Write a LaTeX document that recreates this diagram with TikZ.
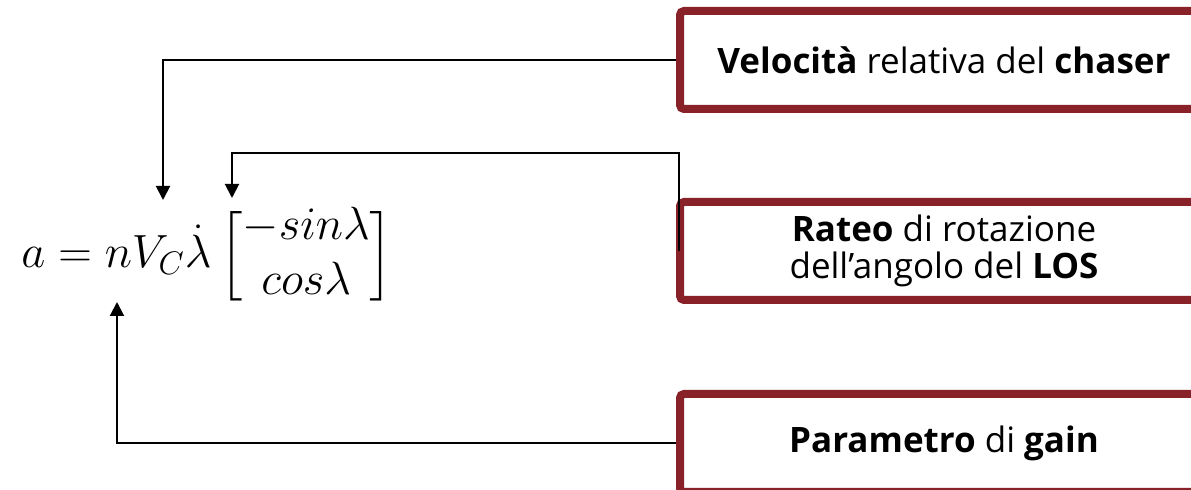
\RequirePackage{fix-cm}
\documentclass[tikz,border=0pt]{standalone}
\usepackage{amsmath}
\usepackage[no-math]{fontspec}
\setmainfont{Open Sans}
\usetikzlibrary{arrows.meta}
\definecolor{boxred}{RGB}{136,34,40}
\begin{document}
\begin{tikzpicture}[x=0.5pt,y=-0.5pt,
  infobox/.style={draw=boxred, line width=4pt, rounded corners=2pt,
    minimum width=264pt, minimum height=49pt, align=center,
    font=\fontsize{17.5}{18.5}\selectfont, inner sep=0pt},
  conn/.style={line width=1pt, -{Triangle[width=7pt,length=7pt]}}]
\useasboundingbox (0,0) rectangle (1191,490);
\clip (0,0) rectangle (1191,490);
\fill[white] (0,0) rectangle (1191,490);

\node[infobox] (b1) at (944,60) {\textbf{Velocità} relativa del \textbf{chaser}};
\node[infobox] (b2) at (944,251) {\textbf{Rateo} di rotazione\\dell’angolo del \textbf{LOS}};
\node[infobox] (b3) at (944,443) {\textbf{Parametro} di \textbf{gain}};

\node[anchor=base west, inner sep=0pt, font=\fontsize{23.3}{27.5}\selectfont] (eq) at (21,268)
  {$a = nV_C\dot{\lambda}\,\Big[\begin{matrix}-sin\lambda\\ cos\lambda\end{matrix}\Big]$};

\coordinate (t1) at (163,200);
\coordinate (t2) at (232,198);
\coordinate (t3) at (117,302);
\coordinate (k2) at (679,153);

\draw[conn] (b1.west) -| (t1);
\draw[conn] ([xshift=1.5pt]b2.west) -- ([xshift=1.5pt]b2.west |- k2) -| (t2);
\draw[conn] (b3.west) -| (t3);
\end{tikzpicture}
\end{document}
